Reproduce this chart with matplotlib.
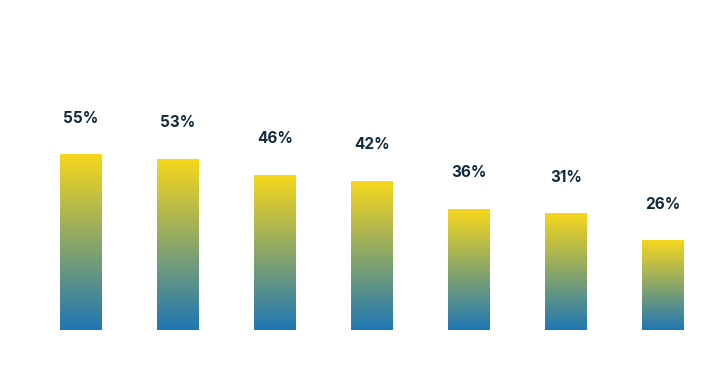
import numpy as np
import matplotlib.pyplot as plt
from matplotlib.colors import LinearSegmentedColormap

# values
labels = ['55%', '53%', '46%', '42%', '36%', '31%', '26%']
bar_values = [55, 53.7, 48.7, 46.8, 38.0, 36.5, 28.0]

# blue at the bottom, yellow at the top
cmap = LinearSegmentedColormap.from_list('bar_grad', ['#1f77b4', '#f7d71c'])

fig = plt.figure(figsize=(7.01, 3.73), dpi=100)
ax = fig.add_axes([0, 0, 1, 1])

width = 0.43
grad = np.linspace(0, 1, 256).reshape(-1, 1)

for i, (val, lab) in enumerate(zip(bar_values, labels)):
    ax.imshow(grad, cmap=cmap, origin='lower', aspect='auto',
              extent=[i - width / 2, i + width / 2, 0, val], zorder=2)
    ax.text(i, val + 10.0, lab, ha='center', va='baseline',
            fontsize=11, fontweight='bold',
            family=['Inter', 'DejaVu Sans'], color='#0f2a3c')

ax.set_xlim(-0.835, 6.392)
ax.set_ylim(-13.51, 103.7)
ax.axis('off')

plt.savefig('out.png', dpi=100)
